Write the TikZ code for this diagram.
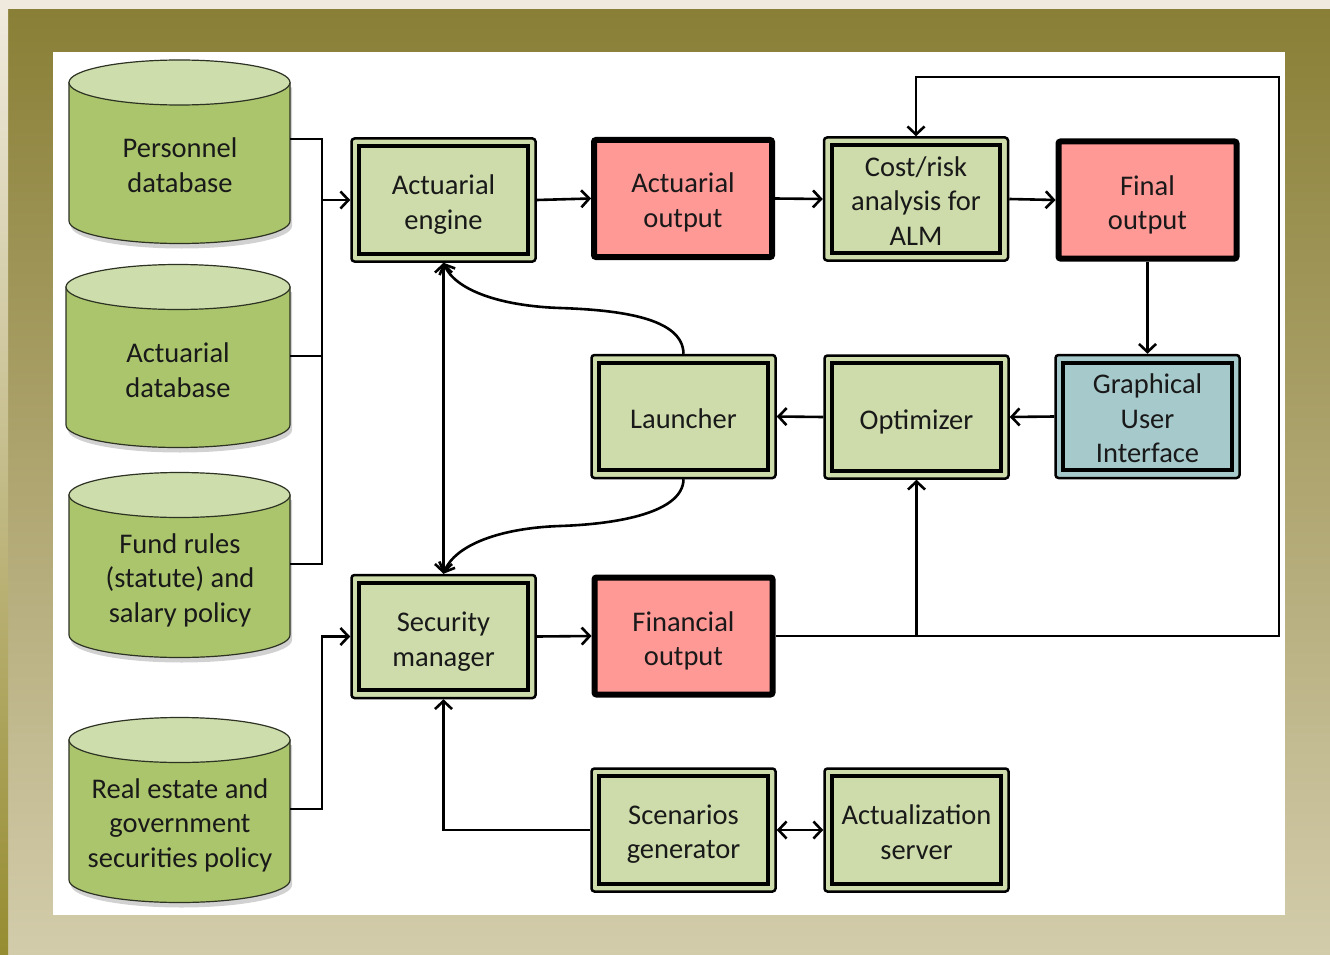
\documentclass[tikz,border=0pt]{standalone}
\usepackage{fontspec}
\setmainfont{Carlito}
\usetikzlibrary{arrows.meta,calc}
\definecolor{frameolive}{RGB}{138,127,54}
\definecolor{framekhaki}{RGB}{211,204,171}
\definecolor{framecream}{RGB}{240,234,222}
\definecolor{cylside}{RGB}{171,197,109}
\definecolor{cyltop}{RGB}{205,221,172}
\definecolor{cyledge}{RGB}{45,50,35}
\definecolor{boxgreen}{RGB}{205,220,170}
\definecolor{boxpink}{RGB}{255,153,150}
\definecolor{boxblue}{RGB}{166,201,203}
\definecolor{textc}{RGB}{25,25,25}
\newcommand\dbcyl[4]{%
  \pgfmathsetmacro\crx{(#2-#1)/2}%
  \fill[black,opacity=.18] (#1+2,#3+5) -- (#1+2,#4+5) arc[start angle=180,end angle=360,x radius=\crx pt,y radius=22.5pt] -- (#2+2,#3+5) -- cycle;
  \filldraw[fill=cylside,draw=cyledge,line width=1.2pt] (#1,#3) -- (#1,#4) arc[start angle=180,end angle=360,x radius=\crx pt,y radius=22.5pt] -- (#2,#3) -- cycle;
  \filldraw[fill=cyltop,draw=cyledge,line width=1.2pt] ({(#1+#2)/2},#3) ellipse[x radius=\crx pt,y radius=22.5pt];
}
\begin{document}
\begin{tikzpicture}[x=1pt,y=-1pt,
  >={Straight Barb[length=8pt,width=17pt]},
  txt/.style={font=\fontsize{28.5}{34.5}\selectfont,text=textc,align=center,inner sep=0pt},
  gbox/.style={draw=black,line width=2.5pt,rounded corners=3pt,fill=boxgreen,
    minimum width=184pt,minimum height=123pt,inner sep=0pt},
  pbox/.style={draw=black,line width=6pt,rounded corners=2pt,fill=boxpink,
    minimum width=178pt,minimum height=117pt,inner sep=0pt},
  innerline/.style={draw=black,line width=4pt},
  wire/.style={draw=black,line width=2.6pt},
  conn/.style={wire,->}]
\useasboundingbox (0,0) rectangle (1330,955);
% background frame
\fill[framecream] (0,0) rectangle (1330,955);
\shade[top color=frameolive,bottom color=framekhaki] (8,10) rectangle (1330,955);
\shade[top color=framecream,bottom color=frameolive!90!yellow] (0,10) rectangle (8,955);
\fill[white] (53,52) rectangle (1285,915);
% databases
\dbcyl{69}{290}{82.5}{221}
\dbcyl{66}{290}{287}{425}
\dbcyl{69}{290}{495}{635}
\dbcyl{69}{290}{740}{880}
\node[txt] (pdb) at (180,165) {Personnel\\database};
\node[txt] (adb) at (178,370) {Actuarial\\database};
\node[txt] (frp) at (180,580) {Fund rules\\(statute) and\\salary policy};
\node[txt] (rep) at (180,825) {Real estate and\\government\\securities policy};
\coordinate (pdbE) at (290,139);
\coordinate (adbE) at (290,356);
\coordinate (frE) at (290,564);
\coordinate (reE) at (290,809);
\coordinate (bus) at (322,0);
% boxes
\node[gbox] (ae) at (443.5,200) {};
\node[pbox] (ao) at (683,198.5) {};
\node[gbox] (cr) at (916,199) {};
\node[pbox] (fo) at (1147.5,200) {};
\node[gbox] (la) at (683.5,416.5) {};
\node[gbox] (op) at (916.5,417) {};
\node[gbox,fill=boxblue] (gui) at (1147.5,416.5) {};
\node[gbox] (sm) at (443.5,636.5) {};
\node[pbox] (fi) at (683.5,636) {};
\node[gbox] (sg) at (683.5,830) {};
\node[gbox] (as) at (916.5,830) {};
\foreach \n in {ae,cr,la,op,gui,sm,sg,as}
  \draw[innerline] ([shift={(9,9)}]\n.north west) rectangle ([shift={(-9,-9)}]\n.south east);
% box texts
\node[txt] (ae-t) at ($(ae)+(0,4.5)$) {Actuarial\\engine};
\node[txt] (ao-t) at ($(ao)+(0,4)$) {Actuarial\\output};
\node[txt] (cr-t) at ($(cr)+(0,2)$) {Cost/risk\\analysis for\\ALM};
\node[txt] (fo-t) at ($(fo)+(0,5)$) {Final\\output};
\node[txt] (la-t) at ($(la)+(0,2)$) {Launcher};
\node[txt] (op-t) at ($(op)+(0,5)$) {Optimizer};
\node[txt] (gui-t) at ($(gui)+(0,2)$) {Graphical\\User\\Interface};
\node[txt] (sm-t) at ($(sm)+(0,5)$) {Security\\manager};
\node[txt] (fi-t) at ($(fi)+(0,5)$) {Financial\\output};
\node[txt] (sg-t) at ($(sg)+(0,4)$) {Scenarios\\generator};
\node[txt] (as-t) at ($(as)+(0,2)$) {Actualization\\server};
% connectors
\draw[wire] (pdbE) -- (pdbE -| bus) -- (frE -| bus) -- (frE);
\draw[wire] (adbE) -- (adbE -| bus);
\draw[conn] (ae.west -| bus) -- (ae.west);
\draw[conn] (reE) -- (reE -| bus) |- (sm.west);
\draw[conn] (ae.east) -- (ao.west);
\draw[conn] (ao.east) -- (cr.west);
\draw[conn] (cr.east) -- (fo.west);
\draw[conn] (fo.south) -- (gui.north);
\draw[conn] (gui.west) -- (op.east);
\draw[conn] (op.west) -- (la.east);
\coordinate (upmid) at (560,308);
\coordinate (lowmid) at (560,526);
\draw[conn] (la.north) .. controls (683,318) and (620,310) .. (upmid) .. controls (500,306) and (455,290) .. (ae.south);
\draw[conn] (la.south) .. controls (683,512) and (620,524) .. (lowmid) .. controls (500,528) and (455,545) .. (sm.north);
\draw[wire,<->] (ae.south) -- (sm.north);
\draw[conn] (sm.east) -- (fi.west);
\coordinate (loopR) at (1279,77);
\draw[conn] (fi.east) -| (loopR) -| (cr.north);
\draw[conn] (op.south |- fi.east) -- (op.south);
\draw[conn] (sg.west) -| (sm.south);
\draw[wire,<->] (sg.east) -- (as.west);
\end{tikzpicture}
\end{document}
